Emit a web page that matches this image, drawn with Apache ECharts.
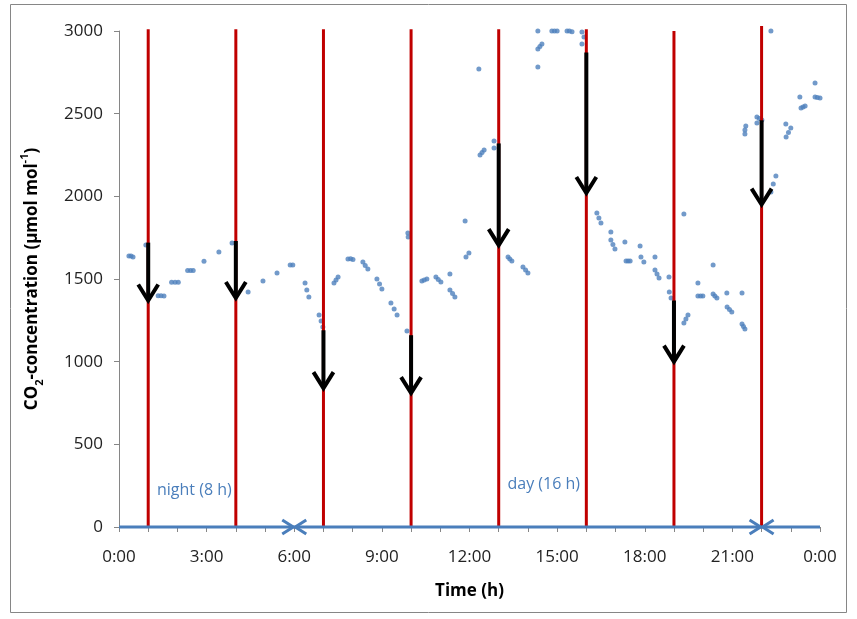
<!DOCTYPE html>
<html>
<head>
<meta charset="utf-8">
<script src="https://cdn.jsdelivr.net/npm/echarts@6/dist/echarts.min.js"></script>
<style>
  html, body { margin: 0; padding: 0; background: #fff; }
  #chart { width: 857px; height: 619px; }
</style>
</head>
<body>
<div id="chart"></div>
<script>
// CO2 readings, time in hours and concentration in umol/mol
const co2Time = [
  0.34, 0.41, 0.48, 0.92, 1.34, 1.44, 1.54, 1.80, 1.92, 2.03,
  2.35, 2.45, 2.54, 2.91, 3.42, 3.87, 4.42, 4.93, 5.41, 5.86, 5.95,
  6.37, 6.43, 6.50, 6.85, 6.92, 6.98, 7.36, 7.43, 7.50,
  7.84, 7.93, 8.01, 8.35, 8.43, 8.52, 8.83, 8.92, 9.00,
  9.31, 9.42, 9.52, 9.86, 9.89, 9.90,
  10.37, 10.45, 10.54, 10.85, 10.93, 11.02, 11.33,
  11.33, 11.42, 11.50, 11.85, 11.88, 11.98,
  12.32, 12.36, 12.43, 12.50, 12.84, 12.84,
  13.32, 13.38, 13.45, 13.83, 13.92, 14.00,
  14.34, 14.34, 14.41, 14.48, 14.34,
  14.82, 14.91, 15.00, 15.34, 15.42, 15.51, 15.85, 15.92, 15.85,
  16.36, 16.43, 16.50, 16.84, 16.84, 16.91, 16.98,
  17.32, 17.36, 17.43, 17.50, 17.84, 17.87, 17.97,
  18.35, 18.35, 18.42, 18.49, 18.83, 18.84, 18.90,
  19.34, 19.34, 19.41, 19.48, 19.82, 19.82, 19.91, 19.99,
  20.34, 20.34, 20.40, 20.47, 20.81, 20.82, 20.90, 20.98,
  21.33, 21.33, 21.38, 21.43, 21.46, 21.43, 21.43,
  21.84, 21.92, 22.01, 21.84,
  22.32, 22.32, 22.40, 22.49, 22.83, 22.84, 22.92, 23.00,
  23.31, 23.35, 23.42, 23.49, 23.83, 23.83, 23.91, 24.00
];
const co2Value = [
  1639, 1639, 1633, 1706, 1399, 1398, 1397, 1480, 1480, 1480,
  1552, 1552, 1552, 1608, 1664, 1718, 1421, 1488, 1536, 1585, 1585,
  1476, 1434, 1391, 1282, 1246, 1210, 1476, 1494, 1512,
  1621, 1623, 1618, 1603, 1582, 1560, 1500, 1470, 1440,
  1355, 1318, 1282, 1185, 1778, 1754,
  1488, 1494, 1500, 1512, 1497, 1482, 1530,
  1434, 1412, 1391, 1851, 1633, 1657,
  2770, 2250, 2265, 2280, 2335, 2292,
  1633, 1621, 1609, 1573, 1555, 1536,
  3000, 2891, 2906, 2921, 2782,
  3000, 3000, 3000, 3000, 3000, 2996, 2994, 2964, 2921,
  1899, 1869, 1839, 1784, 1736, 1709, 1682,
  1724, 1609, 1609, 1609, 1700, 1633, 1603,
  1633, 1554, 1530, 1506, 1512, 1421, 1385,
  1893, 1234, 1258, 1282, 1476, 1397, 1397, 1397,
  1585, 1409, 1397, 1385, 1415, 1331, 1315, 1300,
  1415, 1228, 1213, 1198, 2425, 2401, 2377,
  2480, 2471, 2462, 2444,
  3000, 2026, 2075, 2123, 2438, 2359, 2386, 2413,
  2601, 2534, 2540, 2546, 2686, 2601, 2598, 2595
];

// red event lines and the drop arrows on them
const eventHour = [1, 4, 7, 10, 13, 16, 19, 22];
const eventTop = [3010, 3010, 3010, 3010, 3010, 3010, 3000, 3030];
const dropFrom = [1720, 1730, 1190, 1160, 2320, 2870, 1370, 2460];
const dropTo = [1370, 1385, 840, 810, 1705, 2020, 1000, 1950];

// night / day bars along the time axis
const phaseStart = [0, 6, 22];
const phaseEnd = [6, 22, 24];
const headAtStart = [0, 1, 1];
const headAtEnd = [1, 1, 0];
const phaseText = ['night (8 h)', 'day (16 h)'];
const phaseTextX = [1.3, 13.3];
const phaseTextY = [222, 256];

const xTicks = [0, 3, 6, 9, 12, 15, 18, 21, 24];

const FONT = '"Open Sans", "DejaVu Sans", sans-serif';
const BLUE = '#4a7ebb';

let chart = echarts.init(document.getElementById('chart'));

function chevron(x, y, dx, dy) {
    return [[x + dx, y - dy], [x, y], [x + dx, y + dy]];
}

let option = {
    backgroundColor: '#fff',
    animation: false,
    graphic: [{
        type: 'rect',
        shape: {x: 10.5, y: 4.5, width: 836, height: 608},
        style: {fill: null, stroke: '#868686', lineWidth: 1},
        silent: true
    }],
    grid: {left: 119, right: 37, top: 31, bottom: 92},
    xAxis: {
        type: 'value',
        min: 0,
        max: 24,
        interval: 1,
        name: 'Time (h)',
        nameLocation: 'middle',
        nameGap: 56,
        nameTextStyle: {fontFamily: FONT, fontSize: 17, fontWeight: 'bold', color: '#000'},
        axisLine: {lineStyle: {color: '#868686', width: 1}},
        axisTick: {length: 5, lineStyle: {color: '#868686'}},
        axisLabel: {
            margin: 22,
            fontFamily: FONT,
            fontSize: 17,
            color: '#222',
            formatter: (v) => xTicks.indexOf(v) >= 0 ? (v % 24) + ':00' : ''
        },
        splitLine: {show: false}
    },
    yAxis: {
        type: 'value',
        min: 0,
        max: 3000,
        interval: 500,
        name: '{b|CO}{sub|2}{b|-concentration (μmol mol}{sup|-1}{b|)}',
        nameLocation: 'middle',
        nameRotate: 90,
        nameGap: 74,
        nameTextStyle: {
            rich: {
                b: {fontFamily: FONT, fontSize: 17, fontWeight: 'bold', color: '#000', lineHeight: 26},
                sub: {fontFamily: FONT, fontSize: 11, fontWeight: 'bold', color: '#000', lineHeight: 12, verticalAlign: 'bottom'},
                sup: {fontFamily: FONT, fontSize: 11, fontWeight: 'bold', color: '#000', lineHeight: 12, verticalAlign: 'top'}
            }
        },
        axisLine: {show: true, lineStyle: {color: '#868686', width: 1}},
        axisTick: {show: true, length: 5, lineStyle: {color: '#868686'}},
        axisLabel: {margin: 16, fontFamily: FONT, fontSize: 17, color: '#222', formatter: (v) => String(v)},
        splitLine: {show: false}
    },
    series: [
        {
            type: 'scatter',
            data: co2Time.map((t, i) => [t, co2Value[i]]),
            symbolSize: 5,
            itemStyle: {color: '#4f81bd'},
            z: 2
        },
        {
            type: 'custom',
            data: eventHour.map((h, i) => [h, eventTop[i]]),
            renderItem: (params, api) => {
                const top = api.coord([api.value(0), api.value(1)]);
                const bot = api.coord([api.value(0), 0]);
                return {
                    type: 'line',
                    shape: {x1: top[0], y1: top[1], x2: bot[0], y2: bot[1]},
                    style: {stroke: '#c00000', lineWidth: 3}
                };
            },
            z: 3
        },
        {
            type: 'custom',
            data: eventHour.map((h, i) => [h, dropFrom[i], dropTo[i]]),
            renderItem: (params, api) => {
                const a = api.coord([api.value(0), api.value(1)]);
                const b = api.coord([api.value(0), api.value(2)]);
                return {
                    type: 'group',
                    children: [
                        {type: 'line', shape: {x1: a[0], y1: a[1], x2: b[0], y2: b[1] - 3},
                            style: {stroke: '#000', lineWidth: 4}},
                        {type: 'polyline', shape: {points: [[b[0] - 10, b[1] - 16], [b[0], b[1]], [b[0] + 10, b[1] - 16]]},
                            style: {stroke: '#000', lineWidth: 4, fill: null}}
                    ]
                };
            },
            z: 4
        },
        {
            type: 'custom',
            data: phaseStart.map((s, i) => [s, phaseEnd[i], headAtStart[i], headAtEnd[i]]),
            renderItem: (params, api) => {
                const a = api.coord([api.value(0), 0]);
                const b = api.coord([api.value(1), 0]);
                const kids = [{type: 'line', shape: {x1: a[0], y1: a[1], x2: b[0], y2: b[1]},
                    style: {stroke: BLUE, lineWidth: 3}}];
                if (api.value(2)) {
                    kids.push({type: 'polyline', shape: {points: chevron(a[0] + 1, a[1], 11, 7)},
                        style: {stroke: BLUE, lineWidth: 3, fill: null}});
                }
                if (api.value(3)) {
                    kids.push({type: 'polyline', shape: {points: chevron(b[0] - 1, b[1], -11, 7)},
                        style: {stroke: BLUE, lineWidth: 3, fill: null}});
                }
                return {type: 'group', children: kids};
            },
            z: 5
        },
        {
            type: 'custom',
            data: phaseTextX.map((x, i) => [x, phaseTextY[i]]),
            renderItem: (params, api) => {
                const p = api.coord([api.value(0), api.value(1)]);
                return {
                    type: 'text',
                    x: p[0],
                    y: p[1],
                    style: {text: phaseText[params.dataIndex], fill: BLUE, font: '16px ' + FONT,
                        textAlign: 'left', textVerticalAlign: 'middle'}
                };
            },
            z: 1
        }
    ]
};

chart.setOption(option);
</script>
</body>
</html>
